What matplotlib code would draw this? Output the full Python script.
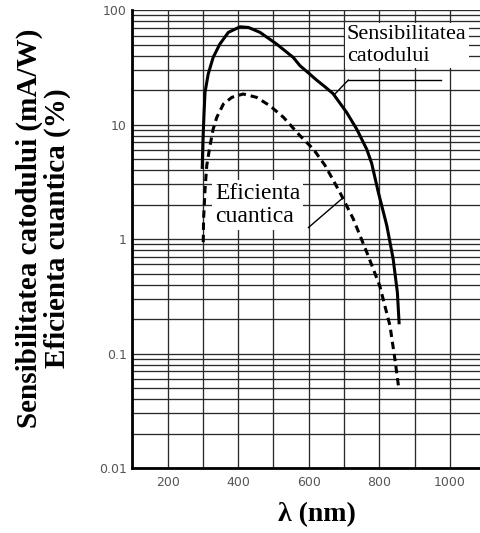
import matplotlib
matplotlib.use("Agg")
import matplotlib.pyplot as plt
import numpy as np
from matplotlib.ticker import LogLocator, FixedLocator, NullFormatter

# Cathode radiant sensitivity (mA/W) - solid
sens_wl = [298, 300, 303, 306, 315, 329, 348, 372, 405, 429, 462, 509, 556, 575, 603, 622, 645, 669, 707, 736, 764, 778, 797, 821, 839, 851, 856]
sens_val = [4.1, 7.0, 12.0, 19.1, 27.6, 38.6, 50.5, 63.9, 71.5, 70.6, 63.9, 50.5, 38.6, 32.7, 27.6, 24.5, 21.5, 18.6, 12.8, 9.1, 6.1, 4.6, 2.56, 1.31, 0.67, 0.34, 0.18]

# Quantum efficiency (%) - dashed
qe_wl = [301, 302, 306, 311, 320, 329, 339, 358, 382, 414, 452, 490, 528, 575, 613, 646, 688, 726, 764, 801, 830, 844, 854]
qe_val = [0.94, 1.5, 2.7, 4.4, 6.5, 9.1, 11.5, 15.1, 17.3, 18.5, 17.3, 14.6, 11.6, 8.0, 6.1, 4.4, 2.56, 1.5, 0.77, 0.39, 0.175, 0.089, 0.052]

x_ticks = [200, 400, 600, 800, 1000]
y_ticks = [0.01, 0.1, 1, 10, 100]
y_tick_labels = ["0.01", "0.1", "1", "10", "100"]

fig = plt.figure(figsize=(4.8, 5.33), dpi=100)
ax = fig.add_axes([0.2756, 0.122, 0.7244, 0.859])

ax.set_yscale("log")
ax.set_xlim(100, 1085)
ax.set_ylim(0.01, 100)

ax.xaxis.set_major_locator(FixedLocator(x_ticks))
ax.xaxis.set_minor_locator(FixedLocator(np.arange(100, 1100, 100)))
ax.yaxis.set_major_locator(FixedLocator(y_ticks))
ax.set_yticklabels(y_tick_labels)
ax.yaxis.set_minor_locator(LogLocator(base=10, subs=np.arange(2, 10), numticks=20))
ax.yaxis.set_minor_formatter(NullFormatter())

ax.grid(True, which="both", color="#2a2a2a", linewidth=0.95)
ax.set_axisbelow(True)

ax.tick_params(which="both", length=0, labelsize=9, labelcolor="#555555")
ax.tick_params(axis="x", pad=5.5)
ax.tick_params(axis="y", pad=4)

for s in ["left", "bottom"]:
    ax.spines[s].set_linewidth(2.0)
    ax.spines[s].set_color("black")
for s in ["top", "right"]:
    ax.spines[s].set_visible(False)

ax.plot(sens_wl, sens_val, color="black", linewidth=2.2, solid_capstyle="butt", solid_joinstyle="round", zorder=3)
ax.plot(qe_wl, qe_val, color="black", linewidth=2.2, linestyle=(0, (2.4, 1.6)), zorder=3)

serif = ["Liberation Serif", "DejaVu Serif"]

# annotation boxes
ax.text(708, 49, "Sensibilitatea\ncatodului", family=serif, fontsize=16, ha="left", va="center",
        linespacing=1.18, zorder=4,
        bbox=dict(facecolor="white", edgecolor="none", pad=1.5))
ax.plot([712, 975], [24.5, 24.5], color="black", linewidth=1.0, zorder=4)
ax.plot([712, 674], [24.5, 18.5], color="black", linewidth=1.0, zorder=4)

ax.text(334, 1.98, "Eficienta\ncuantica", family=serif, fontsize=17, ha="left", va="center",
        linespacing=1.12, zorder=4,
        bbox=dict(facecolor="white", edgecolor="none", pad=2))
ax.plot([599, 698], [1.26, 2.31], color="black", linewidth=1.0, zorder=4)

fig.text(0.66, 0.034, "λ (nm)", family=serif, fontsize=20, fontweight="bold", ha="center", va="center")
fig.text(0.09, 0.572, "Sensibilitatea catodului (mA/W)\nEficienta cuantica (%)", family=serif,
         fontsize=21, fontweight="bold", ha="center", va="center", rotation=90, linespacing=1.05)

fig.savefig("out.png", dpi=100)
